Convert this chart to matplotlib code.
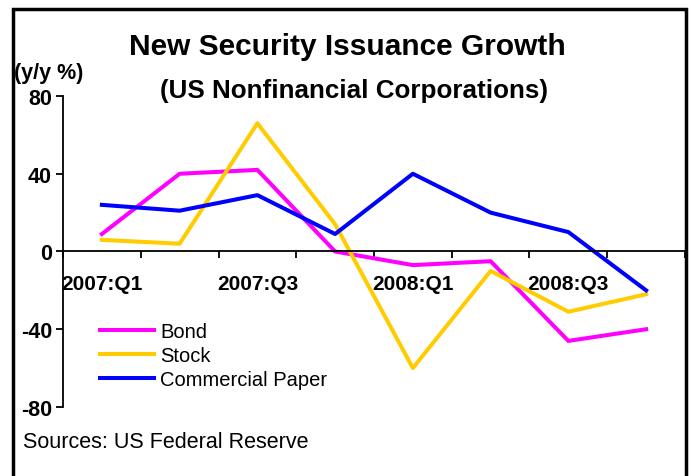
import matplotlib
matplotlib.use("Agg")
import matplotlib.pyplot as plt
from matplotlib.patches import Rectangle
import numpy as np

plt.rcParams['font.family'] = ['Liberation Sans', 'DejaVu Sans']

quarters = ["2007:Q1", "2007:Q2", "2007:Q3", "2007:Q4",
            "2008:Q1", "2008:Q2", "2008:Q3", "2008:Q4"]
bond = [9, 40, 42, 0, -7, -5, -46, -40]
stock = [6, 4, 66, 14, -60, -10, -31, -22]
paper = [24, 21, 29, 9, 40, 20, 10, -20]
yticks = [-80, -40, 0, 40, 80]

fig = plt.figure(figsize=(6.91, 4.77), dpi=100)
ax = fig.add_axes([0.0912, 0.1447, 0.9001, 0.6519])

x = np.arange(len(quarters))
ax.plot(x, bond, color='#ff00ff', linewidth=2.9, label="Bond")
ax.plot(x, stock, color='#ffcc00', linewidth=2.9, label="Stock")
ax.plot(x, paper, color='#0000ff', linewidth=2.9, label="Commercial Paper")

ax.set_xlim(-0.5, len(quarters) - 0.5)
ax.set_ylim(-80, 80)

# spines: left axis + x axis through zero
for s in ['top', 'right']:
    ax.spines[s].set_visible(False)
ax.spines['bottom'].set_position(('data', 0))
ax.spines['left'].set_linewidth(1.3)
ax.spines['bottom'].set_linewidth(1.3)

ax.set_yticks(yticks)
ax.set_yticklabels([str(v) for v in yticks], fontsize=15.5, fontweight='bold')
ax.tick_params(axis='y', direction='out', length=5, width=1.3, pad=3)

# category labels every other quarter, ticks between categories
ax.set_xticks(x[::2])
ax.set_xticklabels(quarters[::2], fontsize=15, fontweight='bold')
ax.set_xticks(np.arange(-0.5, len(quarters)), minor=True)
ax.tick_params(axis='x', which='major', length=0, pad=16)
ax.tick_params(axis='x', which='minor', direction='out', length=5, width=1.3)

ax.legend(loc='upper left', bbox_to_anchor=(0.1447, 0.323),
          bbox_transform=fig.transFigure, frameon=False, fontsize=14.5,
          handlelength=2.7, handletextpad=0.3, labelspacing=0.25,
          borderpad=0, borderaxespad=0)

fig.text(0.502, 0.8847, "New Security Issuance Growth", ha='center',
         va='baseline', fontsize=21.5, fontweight='bold')
fig.text(0.513, 0.7945, "(US Nonfinancial Corporations)", ha='center',
         va='baseline', fontsize=18.7, fontweight='bold')
fig.text(0.020, 0.834, "(y/y %)", ha='left', va='baseline',
         fontsize=15.5, fontweight='bold')
fig.text(0.033, 0.0713, "Sources: US Federal Reserve", ha='left',
         va='center', fontsize=15.5)

# outer frame around the chart
fig.patches.append(Rectangle((13 / 691, -0.05), (686 - 13) / 691, 1.05 - 10 / 477,
                             transform=fig.transFigure, fill=False,
                             edgecolor='black', linewidth=2.5))

fig.savefig("out.png", dpi=100)
